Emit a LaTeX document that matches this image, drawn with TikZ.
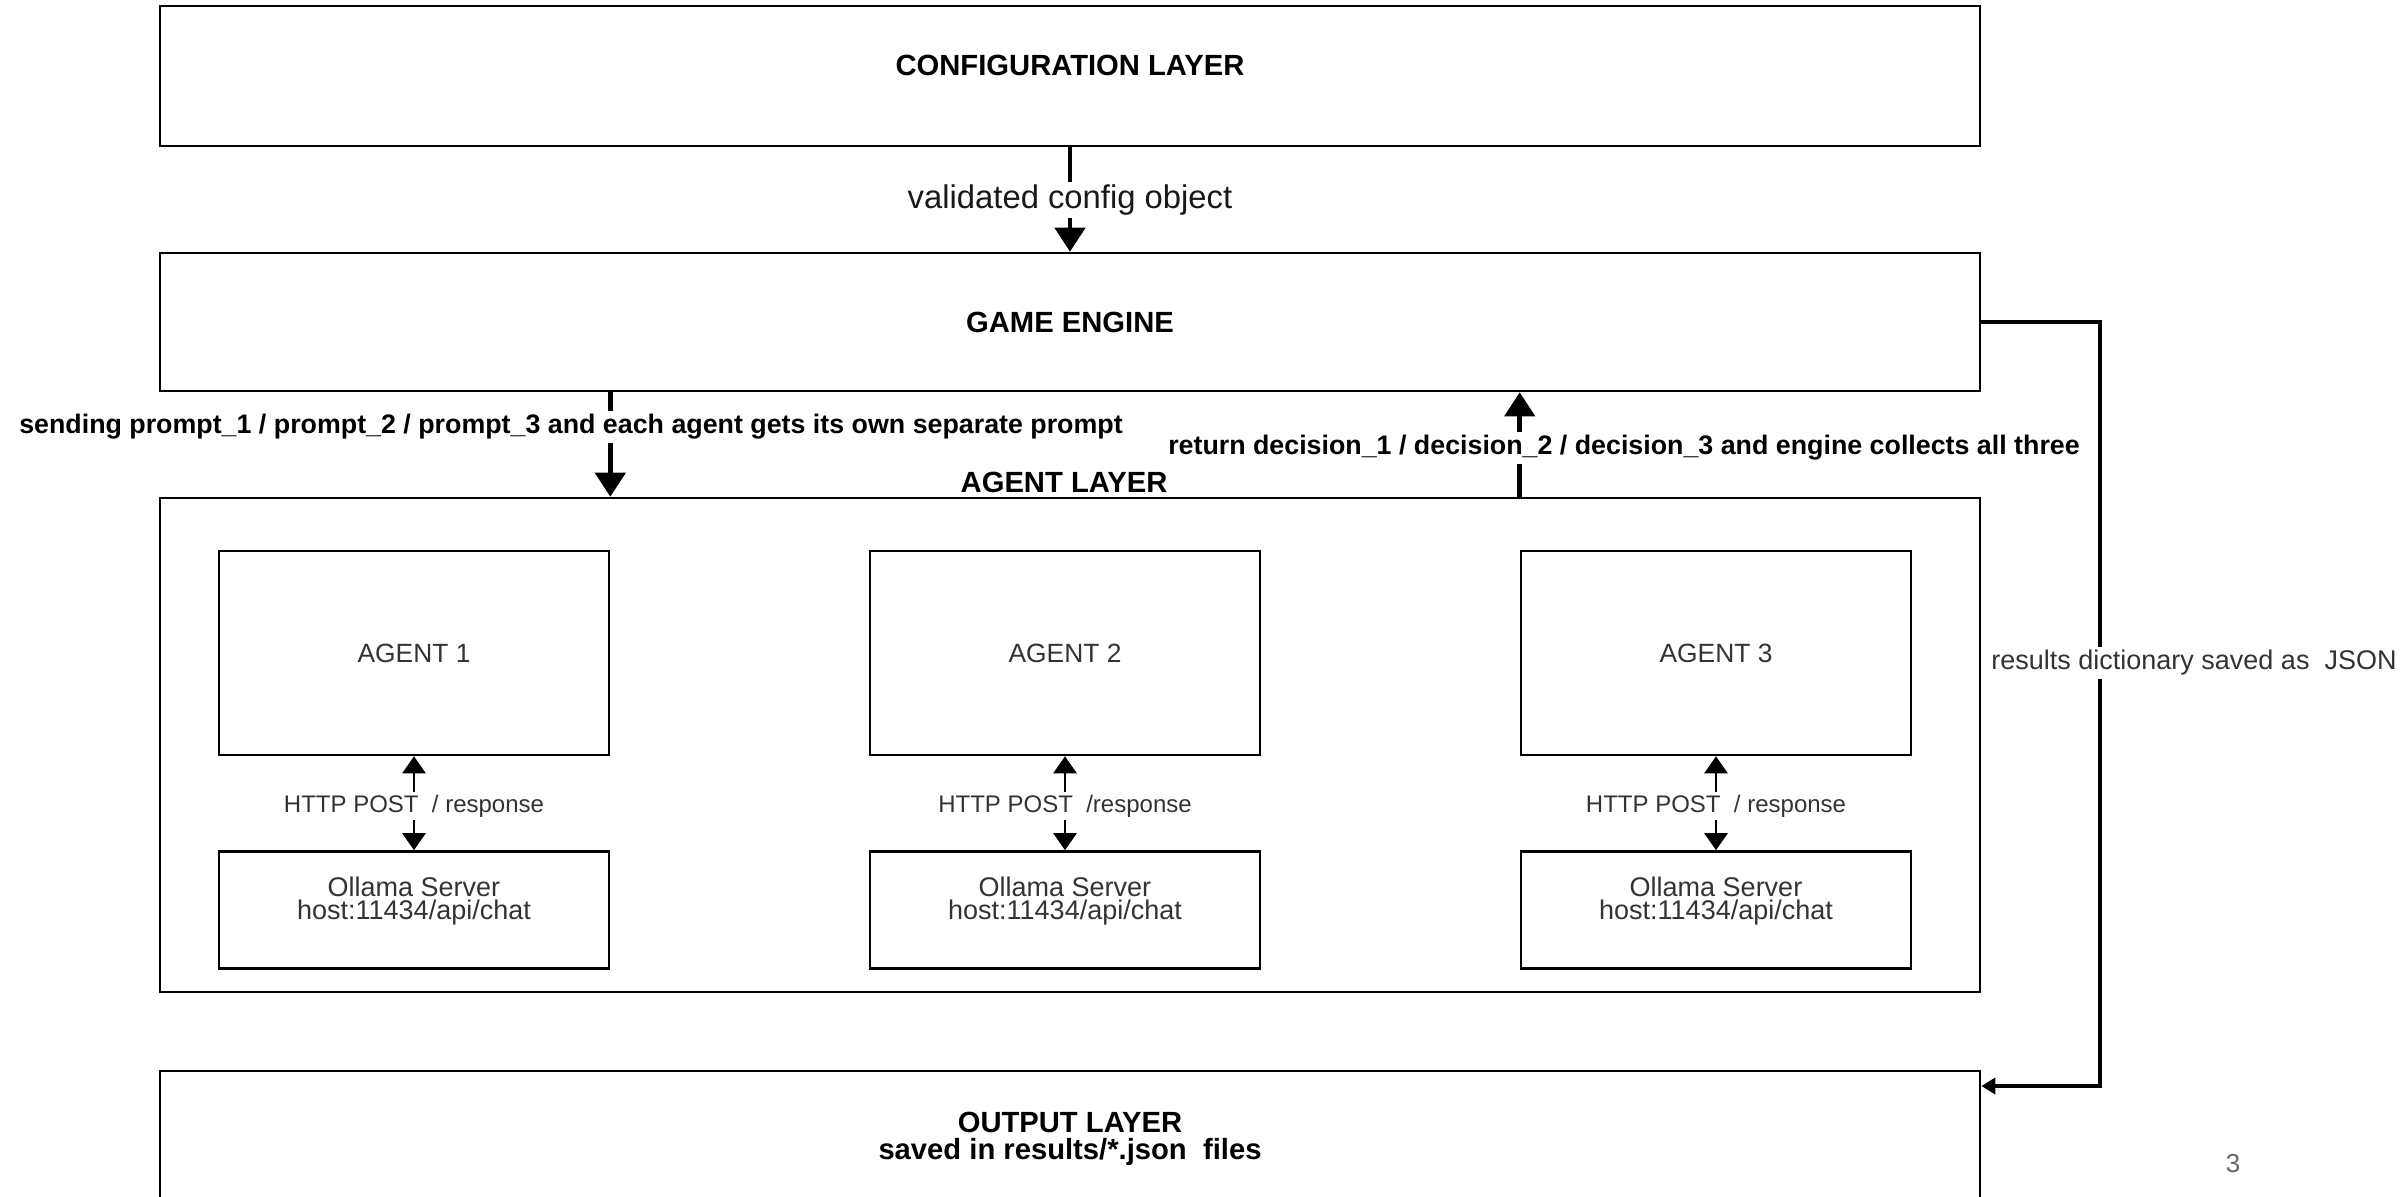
\documentclass[tikz,border=0pt]{standalone}
\usepackage{fontspec}
\setmainfont{Liberation Sans}
\usetikzlibrary{positioning, arrows.meta}

\begin{document}
\begin{tikzpicture}[
    x=0.5pt, y=-0.5pt,
    % Layer box style - wide black rectangles
    layer/.style={
        rectangle,
        draw=black,
        line width=1.3pt,
        minimum width=910pt
    },
    % Agent and server boxes
    agentbox/.style={
        rectangle,
        draw=black,
        line width=1.3pt,
        minimum width=195pt,
        minimum height=102pt,
        text=black!80,
        font=\fontsize{13.2}{15}\selectfont
    },
    serverbox/.style={
        rectangle,
        draw=black,
        line width=1.3pt,
        minimum width=195pt,
        minimum height=58.5pt
    },
    servertxt/.style={
        align=center,
        text=black!80,
        font=\fontsize{13.5}{11.5}\selectfont
    },
    % Label styles
    heading/.style={
        font=\fontsize{14.6}{13.5}\selectfont\bfseries,
        align=center
    },
    arrowlbl/.style={
        fill=white,
        inner sep=1.5pt,
        font=\fontsize{13.4}{15}\selectfont\bfseries
    },
    plainlbl/.style={
        fill=white,
        inner sep=1.5pt,
        text=black!80
    },
    % Arrow styles
    bigarrow/.style={
        -{Triangle[length=12pt, width=15pt]},
        line width=2.3pt
    },
    httparrow/.style={
        {Triangle[length=8.5pt, width=11.5pt]}-{Triangle[length=8.5pt, width=11.5pt]},
        line width=1.4pt
    },
    jsonline/.style={
        -{Triangle[length=7pt, width=8pt]},
        line width=2.4pt
    }
]
\useasboundingbox (0,0) rectangle (2405,1196);

% === Configuration layer ===
\node[layer, minimum height=70pt] (config) at (1070, 76) {};
\node[heading] (configlbl) at (1070, 65) {CONFIGURATION LAYER};

% === Game engine ===
\node[layer, minimum height=69pt, font=\fontsize{14.6}{16}\selectfont\bfseries]
      (engine) at (1070, 322) {GAME ENGINE};

% === Agent layer ===
\node[layer, minimum height=247pt] (agentlayer) at (1070, 745) {};
\node[heading] (agentlbl) at (1064, 482) {AGENT LAYER};

\node[agentbox] (agent1) at (414, 653) {AGENT 1};
\node[agentbox] (agent2) at (1065, 653) {AGENT 2};
\node[agentbox] (agent3) at (1716, 653) {AGENT 3};

\node[serverbox] (server1) at (414, 910) {};
\node[serverbox] (server2) at (1065, 910) {};
\node[serverbox] (server3) at (1716, 910) {};
\node[servertxt] (srvtxt1) at ([yshift=4.5pt]server1.center) {Ollama Server\\host:11434/api/chat};
\node[servertxt] (srvtxt2) at ([yshift=4.5pt]server2.center) {Ollama Server\\host:11434/api/chat};
\node[servertxt] (srvtxt3) at ([yshift=4.5pt]server3.center) {Ollama Server\\host:11434/api/chat};

% HTTP calls between agents and servers
\draw[httparrow] (agent1) -- node[plainlbl, font=\fontsize{12}{14}\selectfont, yshift=-1.5pt] (http1) {HTTP POST\ \ / response} (server1);
\draw[httparrow] (agent2) -- node[plainlbl, font=\fontsize{12}{14}\selectfont, yshift=-1.5pt] (http2) {HTTP POST\ \ /response} (server2);
\draw[httparrow] (agent3) -- node[plainlbl, font=\fontsize{12}{14}\selectfont, yshift=-1.5pt] (http3) {HTTP POST\ \ / response} (server3);

% === Output layer ===
\node[layer, minimum height=67pt] (output) at (1070, 1138) {};
\node[heading] (outputlbl) at (1070, 1139) {OUTPUT LAYER\\saved in results/*.json\ \ files};

% === Arrows between layers ===
\draw[bigarrow] (config) -- (engine);
\node[plainlbl, text=black!90, font=\fontsize{16.4}{18}\selectfont] (cfglbl) at (1070, 200) {validated config object};

\draw[bigarrow] (engine.south -| agent1.east) -- (agentlayer.north -| agent1.east);
\node[arrowlbl] (sendlbl) at (571, 427)
      {sending prompt\_1 / prompt\_2 / prompt\_3 and each agent gets its own separate prompt};

\draw[bigarrow] (agentlayer.north -| agent3.west) -- (engine.south -| agent3.west);
\node[arrowlbl] (returnlbl) at (1624, 448)
      {return decision\_1 / decision\_2 / decision\_3 and engine collects all three};

% === Results to output ===
\coordinate (jsonbend) at (2100, 1086);
\draw[jsonline] (engine.east) -| (jsonbend) -- (jsonbend -| output.east);
\node[plainlbl, anchor=west, font=\fontsize{13.5}{15}\selectfont] (jsonlbl) at (1988, 663)
      {results dictionary saved as\ \ JSON};

% page number
\node[text=black!60, font=\fontsize{13}{15}\selectfont] (pagenum) at (2233, 1164) {3};

\end{tikzpicture}
\end{document}
